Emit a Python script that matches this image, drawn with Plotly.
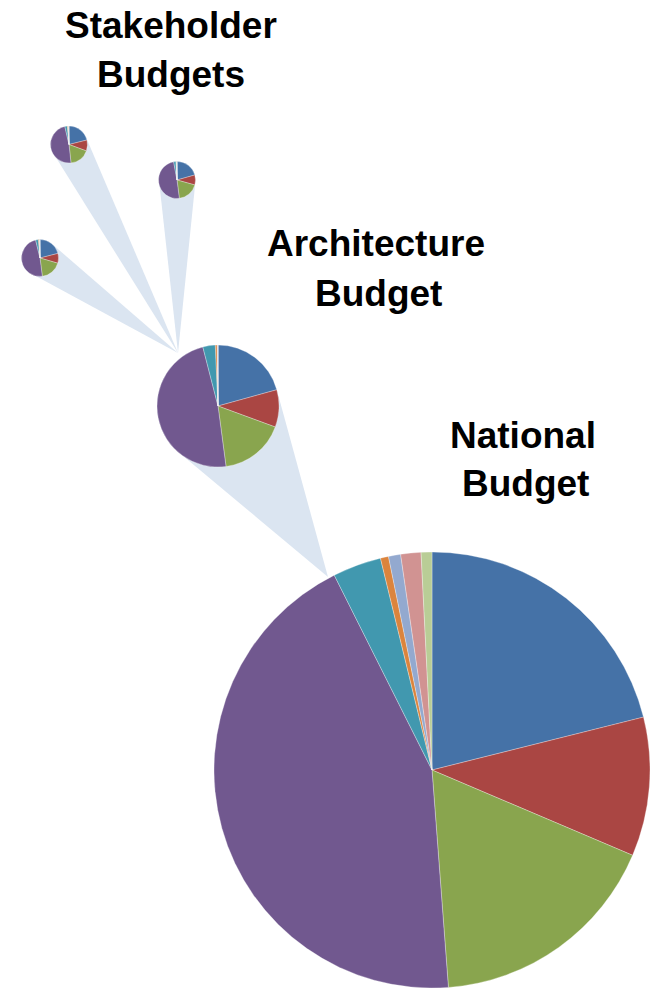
import math
import plotly.graph_objects as go

W, H = 654, 989

categories = ["Cat 1", "Cat 2", "Cat 3", "Cat 4", "Cat 5", "Cat 6", "Cat 7", "Cat 8", "Cat 9"]
colors = ["#4572A7", "#AA4643", "#89A54E", "#71588F", "#4198AF",
          "#DB843D", "#93A9CF", "#D19392", "#B9CD96"]

national = [21.1, 10.3, 17.4, 43.8, 3.6, 0.6, 0.9, 1.5, 0.8]
architecture = [20.7, 9.9, 17.3, 48.1, 3.3, 0.5, 0.1, 0.1, 0.0]
stakeholder_a = [21.1, 9.5, 17.7, 48.1, 2.2, 0.6, 0.3, 0.3, 0.2]
stakeholder_b = [20.6, 8.7, 18.7, 49.1, 2.0, 0.5, 0.2, 0.1, 0.1]
stakeholder_c = [21.0, 8.5, 18.5, 48.2, 2.4, 0.8, 0.3, 0.2, 0.1]

titles = [("Stakeholder", 171, 37), ("Budgets", 171, 86),
          ("Architecture", 376, 255), ("Budget", 378, 305),
          ("National", 523, 447), ("Budget", 525, 495)]

# layout geometry (pixels): center x, center y, radius
pies = [
    (national, 432, 770, 218),
    (architecture, 218, 406, 61),
    (stakeholder_a, 69, 144.5, 18.5),
    (stakeholder_b, 177, 180, 18.5),
    (stakeholder_c, 40, 258, 18.5),
]
cones = [
    ((328, 577), 1),   # apex on national pie -> architecture pie
    ((178, 353), 2),
    ((178, 353), 3),
    ((178, 353), 4),
]
CONE = "#DBE5F1"

fig = go.Figure()

def cone_poly(apex, cx, cy, r):
    ax, ay = apex
    d = math.hypot(ax - cx, ay - cy)
    phi = math.atan2(ay - cy, ax - cx)
    a = math.acos(min(1.0, r / d))
    pts = [(ax, ay)]
    n = 40
    for i in range(n + 1):
        t = phi + a + (2 * math.pi - 2 * a) * i / n
        pts.append((cx + r * math.cos(t), cy + r * math.sin(t)))
    pts.append((ax, ay))
    return [p[0] for p in pts], [p[1] for p in pts]

for apex, idx in cones:
    _, cx, cy, r = pies[idx]
    xs, ys = cone_poly(apex, cx, cy, r)
    fig.add_trace(go.Scatter(x=xs, y=ys, mode="lines", fill="toself",
                             fillcolor=CONE, line=dict(width=0, color=CONE),
                             hoverinfo="skip", showlegend=False))

for vals, cx, cy, r in pies:
    fig.add_trace(go.Pie(
        labels=categories, values=vals, sort=False, direction="clockwise",
        rotation=0, textinfo="none", hoverinfo="label+value",
        marker=dict(colors=colors, line=dict(color="rgba(255,255,255,0.5)", width=0.6)),
        domain=dict(x=[(cx - r) / W, (cx + r) / W],
                    y=[1 - (cy + r) / H, 1 - (cy - r) / H]),
        showlegend=False))

for txt, x, yb in titles:
    fig.add_annotation(x=x, y=yb, xref="x", yref="y", text="<b>" + txt + "</b>",
                       showarrow=False, xanchor="center", yanchor="bottom",
                       yshift=-11,
                       font=dict(family="Liberation Sans, Arial, sans-serif", size=37, color="#000000"))

fig.update_layout(
    width=W, height=H, margin=dict(l=0, r=0, t=0, b=0),
    paper_bgcolor="white", plot_bgcolor="white",
    xaxis=dict(range=[0, W], visible=False, domain=[0, 1], fixedrange=True),
    yaxis=dict(range=[H, 0], visible=False, domain=[0, 1], fixedrange=True),
    showlegend=False,
)

fig.write_html("out.html", config={"displayModeBar": False},
               post_script="document.body.style.margin='0';document.body.style.overflow='hidden';")
